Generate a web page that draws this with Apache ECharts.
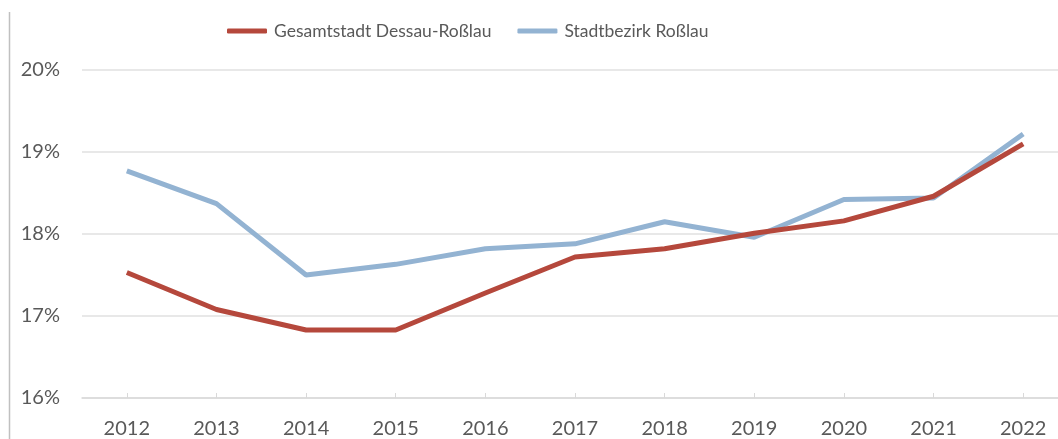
<!DOCTYPE html>
<html><head><meta charset="utf-8">
<script src="https://cdn.jsdelivr.net/npm/echarts@6/dist/echarts.min.js"></script>
<style>html,body{margin:0;padding:0;background:#fff;overflow:hidden}#c{width:1068px;height:439px}</style>
</head><body><div id="c"></div>
<script>
const years = ['2012','2013','2014','2015','2016','2017','2018','2019','2020','2021','2022'];
const gesamtstadt = [17.53, 17.08, 16.83, 16.83, 17.28, 17.72, 17.82, 18.01, 18.16, 18.46, 19.10];
const stadtbezirk = [18.77, 18.37, 17.50, 17.63, 17.82, 17.88, 18.15, 17.96, 18.42, 18.44, 19.22];
const seriesNames = ['Gesamtstadt Dessau-Roßlau', 'Stadtbezirk Roßlau'];
const yTicks = [16, 17, 18, 19, 20];

const font = 'Lato, "Open Sans", sans-serif';
const chart = echarts.init(document.getElementById('c'), null, {renderer: 'canvas'});
chart.setOption({
  animation: false,
  graphic: [{type: 'line', shape: {x1: 9.5, y1: 12, x2: 9.5, y2: 439}, style: {stroke: '#c0c0c0', lineWidth: 1.5}}],
  legend: {
    top: 17, left: 222, itemWidth: 40, itemHeight: 5, itemGap: 26,
    textStyle: {fontFamily: font, fontSize: 17.5, color: '#595959', padding: [0, 0, 0, 2]},
    data: seriesNames.map(n => ({name: n, icon: 'roundRect'}))
  },
  grid: {left: 82, right: 0, top: 70, bottom: 41, containLabel: false},
  xAxis: {
    type: 'category', data: years, boundaryGap: true,
    axisLine: {lineStyle: {color: '#d9d9d9', width: 1.5}},
    axisTick: {show: true, alignWithLabel: true, length: 5, inside: true, lineStyle: {color: '#d9d9d9'}},
    axisLabel: {fontFamily: font, fontSize: 20, color: '#595959', margin: 21}
  },
  yAxis: {
    type: 'value', min: yTicks[0], max: yTicks[yTicks.length - 1], interval: 1,
    axisLine: {show: false}, axisTick: {show: false},
    splitLine: {lineStyle: {color: '#e0e0e0', width: 1.5}},
    axisLabel: {fontFamily: font, fontSize: 20, color: '#595959', margin: 22, formatter: v => v + '%'}
  },
  series: [
    {name: seriesNames[0], type: 'line', data: gesamtstadt, symbol: 'none', z: 2,
     lineStyle: {color: '#B5483C', width: 5}, itemStyle: {color: '#B5483C'}},
    {name: seriesNames[1], type: 'line', data: stadtbezirk, symbol: 'none', z: 1,
     lineStyle: {color: '#93B3D2', width: 5}, itemStyle: {color: '#93B3D2'}}
  ]
});
</script></body></html>
